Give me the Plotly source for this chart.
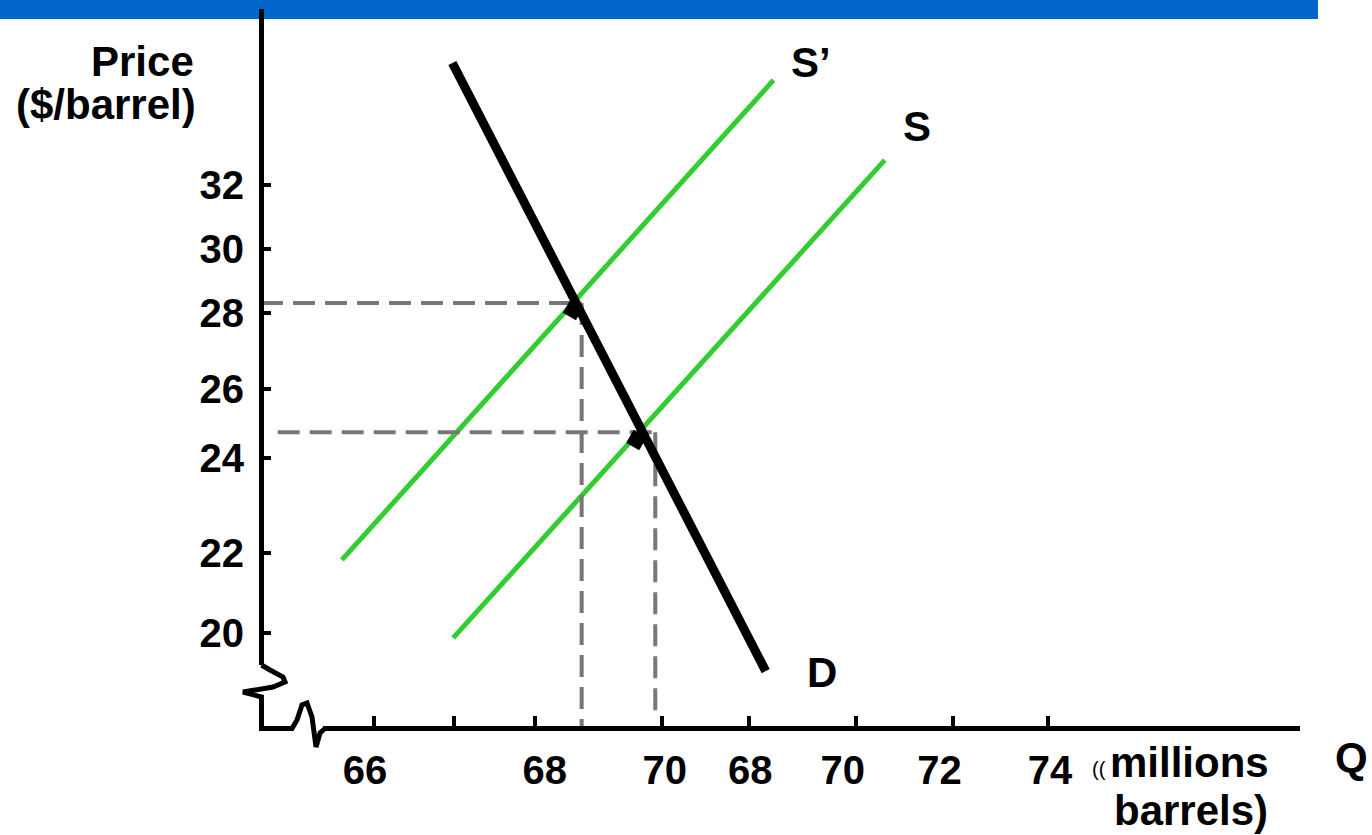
import plotly.graph_objects as go

# ---------------- data (units along the hand-drawn axes) ----------------
price_tick_pos = [20.0, 22.14, 24.69, 26.54, 28.57, 30.29, 32.0]
price_tick_labels = ["20", "22", "24", "26", "28", "30", "32"]

qty_label_pos = [66.0, 68.1, 69.5, 70.5, 71.58, 72.71, 74.0]
qty_labels = ["66", "68", "70", "68", "70", "72", "74"]
qty_tick_pos = [66.11, 67.04, 67.99, 69.47, 70.49, 71.74, 72.87, 73.98]

supply_new_q = [65.73, 70.77]
supply_new_p = [21.96, 34.81]
supply_q = [67.03, 72.07]
supply_p = [19.87, 32.67]
demand_q = [67.02, 70.68]
demand_p = [35.27, 18.98]

eq_q = [68.53, 69.39]          # equilibrium quantities (dashed verticals)
eq_p = [28.84, 25.38]          # equilibrium prices (dashed horizontals)
dash_start_q = [64.785, 64.98]
dash_end_p = [17.455, 17.72]
marker_q = [68.43, 69.17]
marker_p = [28.65, 25.17]

X_RANGE = [64.785, 76.92]
Y_RANGE = [17.455, 36.69]

# ---------------- figure geometry helpers (pixel -> paper) ----------------
L, R, T, B = 261, 1300, 10, 728
W, H = 1372, 835


def px(x):
    return (x - L) / (R - L)


def py(y):
    return (B - y) / (B - T)


FONT = "Liberation Sans, Arial, sans-serif"
GREEN = "#33CC33"
GRAY = "#777777"

fig = go.Figure()

fig.add_trace(go.Scatter(x=supply_new_q, y=supply_new_p, mode="lines",
                         line=dict(color=GREEN, width=5), hoverinfo="skip"))
fig.add_trace(go.Scatter(x=supply_q, y=supply_p, mode="lines",
                         line=dict(color=GREEN, width=5), hoverinfo="skip"))

for i in range(2):
    fig.add_trace(go.Scatter(x=[dash_start_q[i], eq_q[i]], y=[eq_p[i], eq_p[i]],
                             mode="lines", line=dict(color=GRAY, width=4, dash="22px,10px"),
                             hoverinfo="skip"))
    fig.add_trace(go.Scatter(x=[eq_q[i], eq_q[i]], y=[eq_p[i], dash_end_p[i]],
                             mode="lines", line=dict(color=GRAY, width=4, dash="22px,10px"),
                             hoverinfo="skip"))

fig.add_trace(go.Scatter(x=demand_q, y=demand_p, mode="lines",
                         line=dict(color="black", width=9), hoverinfo="skip"))
fig.add_trace(go.Scatter(x=marker_q, y=marker_p, mode="markers",
                         marker=dict(symbol="square", size=15, color="black", angle=30),
                         hoverinfo="skip"))
# invisible trace so the overlay tick axis renders
fig.add_trace(go.Scatter(x=[X_RANGE[0]], y=[Y_RANGE[0]], xaxis="x2", mode="markers",
                         marker=dict(opacity=0), hoverinfo="skip"))

# ---------------- decorations ----------------
shapes = [
    dict(type="rect", xref="paper", yref="paper", x0=px(0), x1=px(1318), y0=py(19), y1=py(0),
         fillcolor="#0066CC", line=dict(width=0), layer="below"),
    dict(type="line", xref="paper", yref="paper", x0=px(261.5), x1=px(261.5), y0=py(9), y1=py(665),
         line=dict(color="black", width=5)),
    dict(type="line", xref="paper", yref="paper", x0=px(323), x1=px(1300), y0=py(728.5), y1=py(728.5),
         line=dict(color="black", width=5)),
]
brk = [(261.5, 665), (270, 670), (283, 677), (285, 682), (273, 687), (243, 692), (261.5, 697),
       (261.5, 728.5), (292, 728.5), (297, 720), (302, 705), (307, 703), (312, 717), (316, 747),
       (320, 733), (325, 728.5)]
path = "M " + " L ".join(f"{px(a):.5f},{py(b):.5f}" for a, b in brk)
shapes.append(dict(type="path", xref="paper", yref="paper", path=path,
                   line=dict(color="black", width=5)))

annotations = []


def add_text(text, x, y, size=42, xanchor="center", weight="bold"):
    annotations.append(dict(text=text, xref="paper", yref="paper", x=px(x), y=py(y),
                            xanchor=xanchor, yanchor="middle", showarrow=False,
                            font=dict(family=FONT, size=size, color="black", weight=weight)))


add_text("S’", 811, 62)
add_text("S", 917, 126)
add_text("D", 822, 672)
add_text("Q", 1351, 757)
add_text("Price", 142, 61)
add_text("($/barrel)", 106, 104)
add_text("millions", 1189, 762)
add_text("barrels)", 1191, 810)
add_text("((", 1099, 769, size=20, weight="normal")

fig.update_layout(
    width=W, height=H,
    margin=dict(l=L, r=W - R, t=T, b=H - B, pad=0),
    plot_bgcolor="white", paper_bgcolor="white",
    showlegend=False,
    shapes=shapes,
    annotations=annotations,
    xaxis=dict(range=X_RANGE, tickmode="array", tickvals=qty_label_pos, ticktext=qty_labels,
               ticks="", showline=False, showgrid=False, zeroline=False,
               tickfont=dict(family=FONT, size=40, color="black", weight="bold"),
               ticklabelstandoff=15),
    xaxis2=dict(range=X_RANGE, overlaying="x", anchor="y", side="bottom",
                tickmode="array", tickvals=qty_tick_pos, ticks="inside", ticklen=12,
                tickwidth=4, tickcolor="black", showticklabels=False,
                showgrid=False, zeroline=False, showline=False),
    yaxis=dict(range=Y_RANGE, tickmode="array", tickvals=price_tick_pos, ticktext=price_tick_labels,
               ticks="inside", ticklen=10, tickwidth=4, tickcolor="black",
               showline=False, showgrid=False, zeroline=False,
               tickfont=dict(family=FONT, size=40, color="black", weight="bold"),
               ticklabelstandoff=16),
)

fig.write_html("out.html",
               config={"displayModeBar": False},
               post_script="document.body.style.margin='0';document.body.style.overflow='hidden';")
